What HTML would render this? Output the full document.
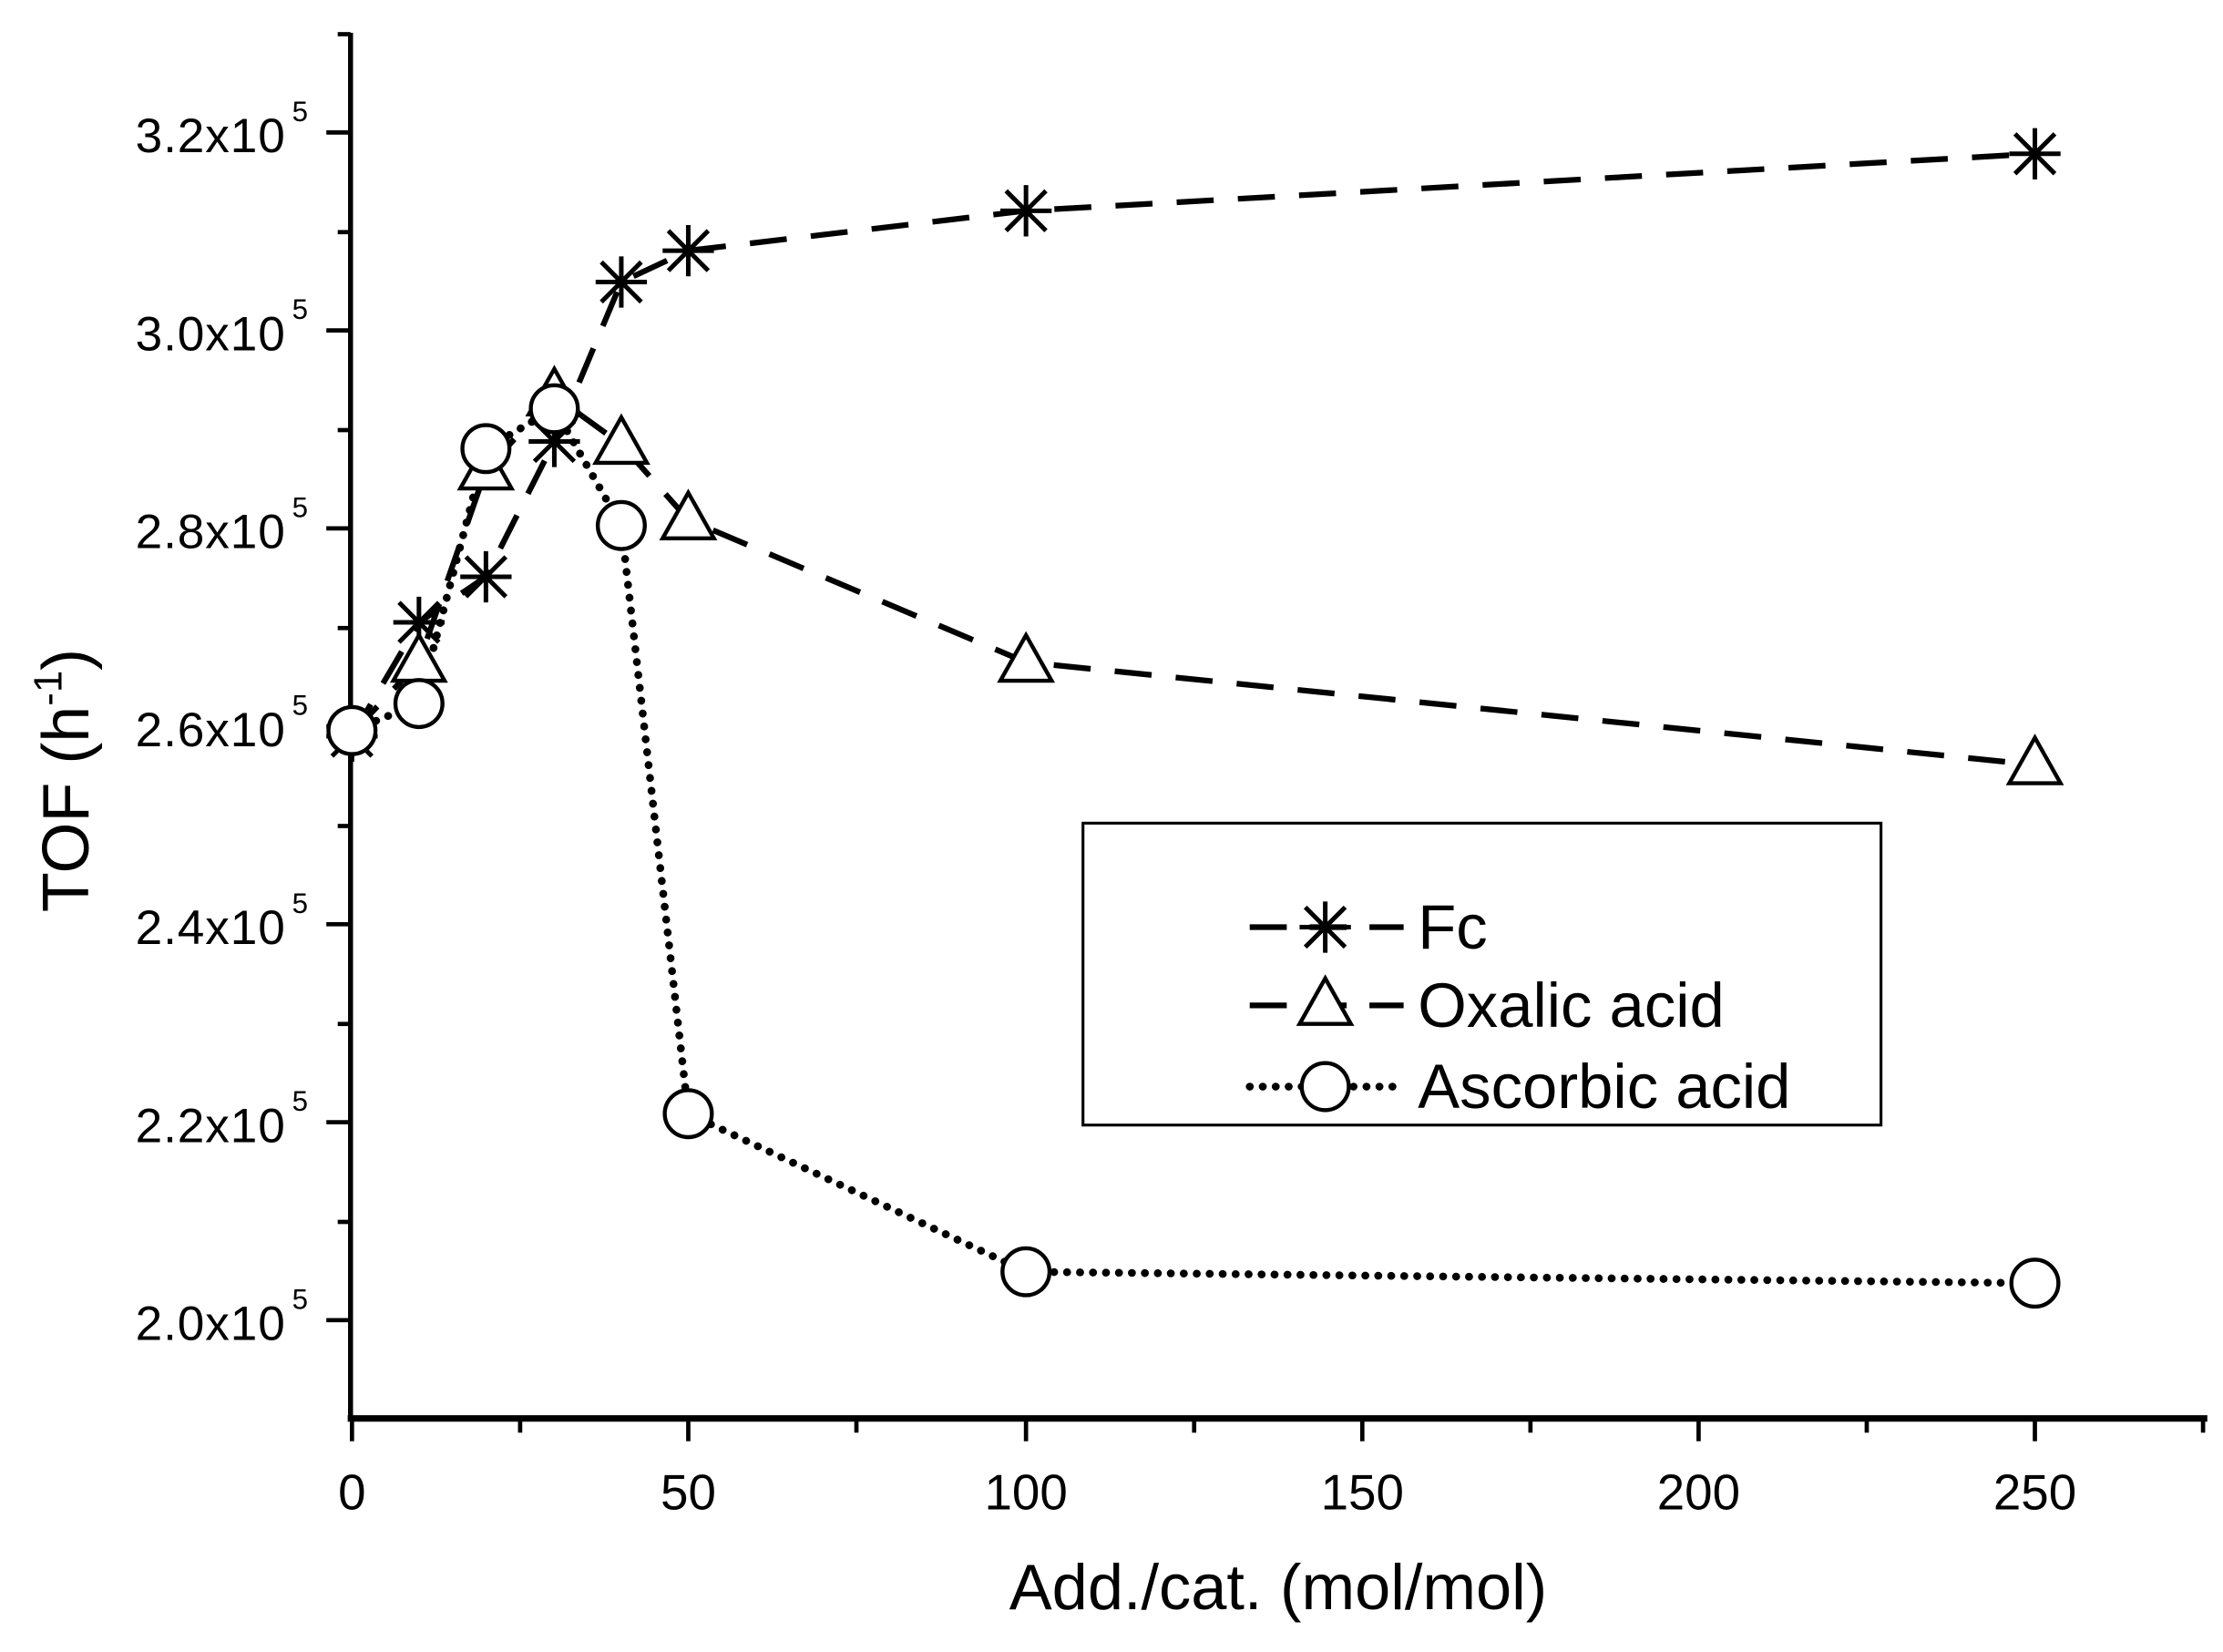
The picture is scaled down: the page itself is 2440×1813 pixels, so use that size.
<!DOCTYPE html>
<html><head><style>html,body{margin:0;padding:0;background:#fff}svg{display:block}</style></head><body>
<svg width="2440" height="1813" viewBox="0 0 1560 1160" preserveAspectRatio="none" xmlns="http://www.w3.org/2000/svg" font-family="Liberation Sans, sans-serif">
<defs>
<g id="ast" stroke="#000" stroke-width="3.2" fill="none"><line x1="-18" y1="0" x2="18" y2="0"/><line x1="0" y1="-18" x2="0" y2="18"/><line x1="-14" y1="-14" x2="14" y2="14"/><line x1="-14" y1="14" x2="14" y2="-14"/></g>
<g id="tri"><path d="M0,-19 L18,13 L-18,13 Z" fill="#fff" stroke="#000" stroke-width="2.8"/></g>
<g id="cir"><circle r="16.5" fill="#fff" stroke="#000" stroke-width="2.8"/></g>
</defs>
<line x1="246" y1="23" x2="246" y2="997" stroke="#000" stroke-width="3.5"/>
<line x1="244" y1="996" x2="1549" y2="996" stroke="#000" stroke-width="4.5"/>
<g stroke="#000" stroke-width="3">
<line x1="229" y1="93" x2="246" y2="93"/><line x1="229" y1="232" x2="246" y2="232"/><line x1="229" y1="371" x2="246" y2="371"/><line x1="229" y1="510" x2="246" y2="510"/><line x1="229" y1="649" x2="246" y2="649"/><line x1="229" y1="788" x2="246" y2="788"/><line x1="229" y1="927" x2="246" y2="927"/>
<line x1="237" y1="24" x2="246" y2="24"/><line x1="237" y1="163" x2="246" y2="163"/><line x1="237" y1="302" x2="246" y2="302"/><line x1="237" y1="441" x2="246" y2="441"/><line x1="237" y1="580" x2="246" y2="580"/><line x1="237" y1="719" x2="246" y2="719"/><line x1="237" y1="858" x2="246" y2="858"/>
<line x1="247" y1="996" x2="247" y2="1012"/><line x1="483" y1="996" x2="483" y2="1012"/><line x1="720" y1="996" x2="720" y2="1012"/><line x1="956" y1="996" x2="956" y2="1012"/><line x1="1192" y1="996" x2="1192" y2="1012"/><line x1="1428" y1="996" x2="1428" y2="1012"/>
<line x1="365" y1="996" x2="365" y2="1006"/><line x1="601" y1="996" x2="601" y2="1006"/><line x1="838" y1="996" x2="838" y2="1006"/><line x1="1074" y1="996" x2="1074" y2="1006"/><line x1="1310" y1="996" x2="1310" y2="1006"/><line x1="1546" y1="996" x2="1546" y2="1006"/>
</g>
<g font-size="34" fill="#000">
<text x="95" y="107" textLength="105">3.2x10</text><text x="205" y="85" font-size="20">5</text>
<text x="95" y="246" textLength="105">3.0x10</text><text x="205" y="224" font-size="20">5</text>
<text x="95" y="385" textLength="105">2.8x10</text><text x="205" y="363" font-size="20">5</text>
<text x="95" y="524" textLength="105">2.6x10</text><text x="205" y="502" font-size="20">5</text>
<text x="95" y="663" textLength="105">2.4x10</text><text x="205" y="641" font-size="20">5</text>
<text x="95" y="802" textLength="105">2.2x10</text><text x="205" y="780" font-size="20">5</text>
<text x="95" y="941" textLength="105">2.0x10</text><text x="205" y="919" font-size="20">5</text>
</g>
<g font-size="35" text-anchor="middle">
<text x="247" y="1060">0</text><text x="483" y="1060">50</text><text x="720" y="1060">100</text><text x="956" y="1060">150</text><text x="1192" y="1060">200</text><text x="1428" y="1060">250</text>
</g>
<text x="897" y="1130" font-size="45" text-anchor="middle">Add./cat. (mol/mol)</text>
<text transform="translate(62,548) rotate(-90)" font-size="46" text-anchor="middle">TOF (h<tspan dy="-19" font-size="28">-1</tspan><tspan dy="19">)</tspan></text>
<polyline points="247,517 294,437 341,405 389,310 436,198 483,176 720,148 1428,108" fill="none" stroke="#000" stroke-width="4" stroke-dasharray="26,17"/>
<polyline points="247,515 294,465 341,330 389,278 436,312 483,365 720,465 1428,537" fill="none" stroke="#000" stroke-width="4" stroke-dasharray="26,17"/>
<polyline points="247,513 294,494 341,315 389,287 436,369 483,782 720,893 1428,901" fill="none" stroke="#000" stroke-width="5.5" stroke-linecap="round" stroke-dasharray="0.1,9"/>
<use href="#ast" x="247" y="517"/><use href="#ast" x="294" y="437"/><use href="#ast" x="341" y="405"/><use href="#ast" x="389" y="310"/><use href="#ast" x="436" y="198"/><use href="#ast" x="483" y="176"/><use href="#ast" x="720" y="148"/><use href="#ast" x="1428" y="108"/>
<use href="#tri" x="294" y="465"/><use href="#tri" x="341" y="330"/><use href="#tri" x="389" y="278"/><use href="#tri" x="436" y="312"/><use href="#tri" x="483" y="365"/><use href="#tri" x="720" y="465"/><use href="#tri" x="1428" y="537"/>
<use href="#cir" x="247" y="513"/><use href="#cir" x="294" y="494"/><use href="#cir" x="341" y="315"/><use href="#cir" x="389" y="287"/><use href="#cir" x="436" y="369"/><use href="#cir" x="483" y="782"/><use href="#cir" x="720" y="893"/><use href="#cir" x="1428" y="901"/>
<rect x="760" y="578" width="560" height="212" fill="#fff" stroke="#000" stroke-width="2"/>
<line x1="877" y1="651" x2="985" y2="651" stroke="#000" stroke-width="4" stroke-dasharray="26,16"/>
<use href="#ast" x="930" y="651"/>
<line x1="877" y1="706" x2="985" y2="706" stroke="#000" stroke-width="4" stroke-dasharray="26,16"/>
<use href="#tri" x="930" y="706"/>
<line x1="877" y1="763" x2="985" y2="763" stroke="#000" stroke-width="5.5" stroke-linecap="round" stroke-dasharray="0.1,9"/>
<use href="#cir" x="930" y="763"/>
<g font-size="44"><text x="995" y="666">Fc</text><text x="995" y="721">Oxalic acid</text><text x="995" y="778">Ascorbic acid</text></g>
</svg>
</body></html>
